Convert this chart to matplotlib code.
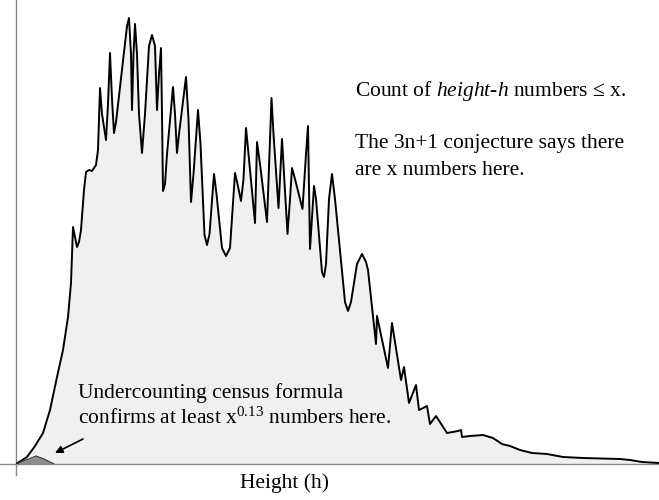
import matplotlib
matplotlib.use("Agg")
import matplotlib.pyplot as plt

plt.rcParams['font.family'] = ['Liberation Serif', 'DejaVu Serif']
plt.rcParams['mathtext.fontset'] = 'custom'
plt.rcParams['mathtext.rm'] = 'Liberation Serif'
plt.rcParams['mathtext.it'] = 'Liberation Serif:italic'

# Count of height-h numbers (arbitrary units)
height = [0, 2.2, 3.8, 5.4, 6.8, 8.2, 9.4, 10.4, 11.0, 11.4, 11.8, 12.2, 12.6, 13.0, 13.6,
          14.0, 14.6, 15.2, 16.0, 16.4, 16.8, 17.2, 18.0, 18.4, 18.8, 19.2, 19.6, 20.0,
          22.2, 22.6, 23.0, 23.2, 23.5, 23.8, 24.2, 24.6, 25.2, 25.8, 26.6, 27.2, 27.8,
          28.2, 28.6, 29.0, 29.2, 29.4, 29.8, 30.2, 31.4, 31.8, 32.2, 32.6, 34.0, 34.5,
          35.0, 35.5, 36.4, 36.9, 37.7, 38.2, 38.7, 39.6, 40.1, 41.2, 42.0, 42.8, 43.8,
          44.3, 45.0, 45.5, 46.0, 46.6, 47.8, 48.2, 48.8, 50.2, 51.1, 51.5, 52.5, 53.2,
          53.6, 54.3, 54.8, 55.2, 55.8, 57.3, 58.0, 58.4, 58.8, 59.6, 60.0, 61.2, 61.6,
          62.0, 62.6, 63.2, 63.8, 65.8, 66.4, 67.0, 68.2, 69.2, 70.0, 70.4, 72.0, 72.2,
          74.4, 75.2, 77.0, 77.6, 78.6, 80.0, 80.6, 82.2, 82.8, 84.0, 86.2, 88.4, 89.0,
          89.2, 90.8, 93.4, 95.4, 97.2, 98.8, 100.8, 103.2, 106.2, 109.4, 113.4, 120.8,
          122.8, 125.2, 128.6]
count = [0, 70, 180, 310, 540, 870, 1140, 1470, 1810, 2370, 2270, 2170, 2220, 2340, 2740,
         2920, 2940, 2930, 2990, 3140, 3760, 3500, 3240, 3600, 4110, 3650, 3310, 3420,
         4380, 4460, 4100, 3540, 4100, 4400, 4100, 3500, 3110, 3500, 4180, 4290, 4180,
         3540, 3900, 4160, 3500, 2730, 2800, 3100, 3770, 3500, 3110, 3300, 3870, 3450,
         2620, 2900, 3540, 3200, 2290, 2190, 2300, 2900, 2700, 2160, 2080, 2160, 2910,
         2800, 2630, 2850, 3360, 3050, 2410, 3220, 3000, 2420, 3660, 3300, 2560, 3250,
         2900, 2300, 2650, 2960, 2850, 2550, 3100, 3380, 2150, 2780, 2650, 1920, 1870,
         2000, 2650, 2900, 2650, 1620, 1530, 1620, 2000, 2100, 2020, 1940, 1200, 1480,
         960, 1410, 840, 970, 610, 790, 540, 580, 400, 480, 310, 330, 340,
         270, 280, 290, 260, 200, 180, 140, 110, 100, 70, 60, 50,
         40, 20, 10]

# Undercounting census formula (small hump)
census_h = [0, 2.0, 4.0, 5.6, 7.6]
census_c = [0, 40, 80, 50, 0]

title_lines = [r"Count of $\mathit{height}$-$\mathit{h}$ numbers ≤ x.",
               "The 3n+1 conjecture says there",
               "are x numbers here."]
census_lines = ["Undercounting census formula",
                r"confirms at least x$^{0.13}$ numbers here."]
xlabel = "Height (h)"

fig = plt.figure(figsize=(6.59, 5.0), dpi=100)
ax = fig.add_axes([16 / 659, 36 / 500, 643 / 659, 464 / 500])
ax.set_xlim(0, 128.6)
ax.set_ylim(0, 4640)

ax.fill_between(height, count, 0, color='#f0f0f0', lw=0, zorder=1)
ax.plot(height, count, color='black', lw=1.4, zorder=3, solid_joinstyle='round')
ax.fill_between(census_h, census_c, 0, color='#8c8c8c', lw=0, zorder=2)
ax.plot(census_h, census_c, color='#333333', lw=0.8, zorder=3)

for s in ['top', 'right']:
    ax.spines[s].set_visible(False)
for s in ['left', 'bottom']:
    ax.spines[s].set_color('#888888')
    ax.spines[s].set_linewidth(1.0)
ax.set_xticks([])
ax.set_yticks([])
# extended axis lines
ax.plot([-3.2, 0], [0, 0], color='#888888', lw=1.0, clip_on=False)
ax.plot([0, 0], [0, -110], color='#888888', lw=1.0, clip_on=False)

fs = 15.5
ax.text(67.8, 3680, title_lines[0], fontsize=fs, va='baseline', ha='left')
ax.text(67.8, 3157, title_lines[1], fontsize=fs, va='baseline', ha='left')
ax.text(67.8, 2890, title_lines[2], fontsize=fs, va='baseline', ha='left')

ax.text(12.4, 657, census_lines[0], fontsize=fs, va='baseline', ha='left')
ax.text(12.4, 407, census_lines[1], fontsize=fs, va='baseline', ha='left')

ax.annotate('', xy=(7.8, 110), xytext=(13.4, 250),
            arrowprops=dict(arrowstyle='-|>', color='black', lw=1.2,
                            mutation_scale=11, shrinkA=0, shrinkB=0))

ax.text(53.8, -240, xlabel, fontsize=fs, va='baseline', ha='center', clip_on=False)

fig.savefig('out.png', dpi=100)
